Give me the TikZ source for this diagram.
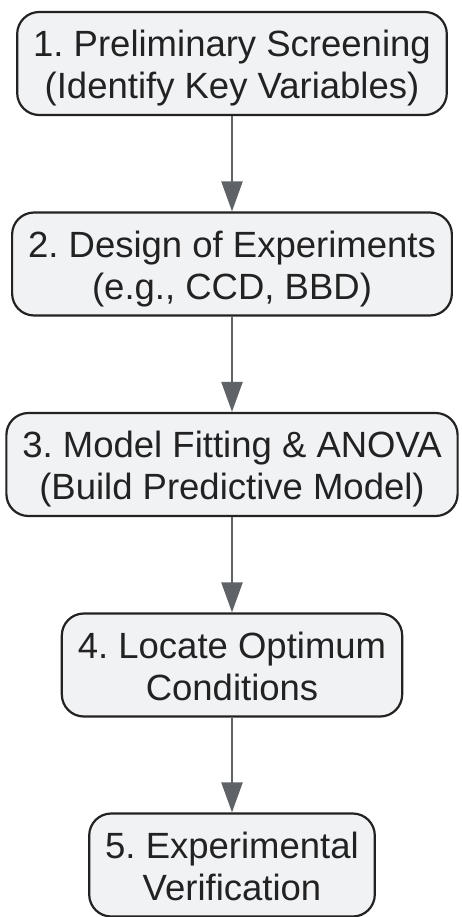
\documentclass[tikz,border=0pt]{standalone}
\usepackage{fontspec}
\setmainfont{Liberation Sans}
\usetikzlibrary{arrows.meta}
\definecolor{boxfill}{HTML}{F1F2F4}
\definecolor{boxline}{HTML}{222222}
\definecolor{arrowcol}{HTML}{5F6368}
\newcommand{\mytopstrut}{\rule{0pt}{38pt}}
\newcommand{\mybotstrut}{\rule[-10pt]{0pt}{10pt}}
\tikzset{
  stepbox/.style={draw=boxline, fill=boxfill, line width=2.2pt, rounded corners=22pt,
    align=center, inner xsep=16pt, inner ysep=0pt, minimum height=103pt,
    font=\fontsize{36.5}{42}\selectfont\frenchspacing, text=boxline},
  flow/.style={draw=arrowcol, line width=2.2pt, -{Triangle[length=30pt,width=21pt]}, color=arrowcol}
}
\begin{document}
\begin{tikzpicture}[x=1pt,y=-1pt]
\useasboundingbox (0,0) rectangle (462,917);
\node[stepbox] (s1) at (232,63.5) {\mytopstrut1. Preliminary Screening\\(Identify Key Variables)\mybotstrut};
\node[stepbox] (s2) at (232,264) {\mytopstrut2. Design of Experiments\\(e.g., CCD, BBD)\mybotstrut};
\node[stepbox] (s3) at (232,464.5) {\mytopstrut3. Model Fitting \& ANOVA\\(Build Predictive Model)\mybotstrut};
\node[stepbox] (s4) at (232,665) {\mytopstrut4. Locate Optimum\\Conditions\mybotstrut};
\node[stepbox] (s5) at (232,865) {\mytopstrut5. Experimental\\Verification\mybotstrut};
\draw[flow] (s1.south) -- (s2.north);
\draw[flow] (s2.south) -- (s3.north);
\draw[flow] (s3.south) -- (s4.north);
\draw[flow] (s4.south) -- (s5.north);
\end{tikzpicture}
\end{document}
